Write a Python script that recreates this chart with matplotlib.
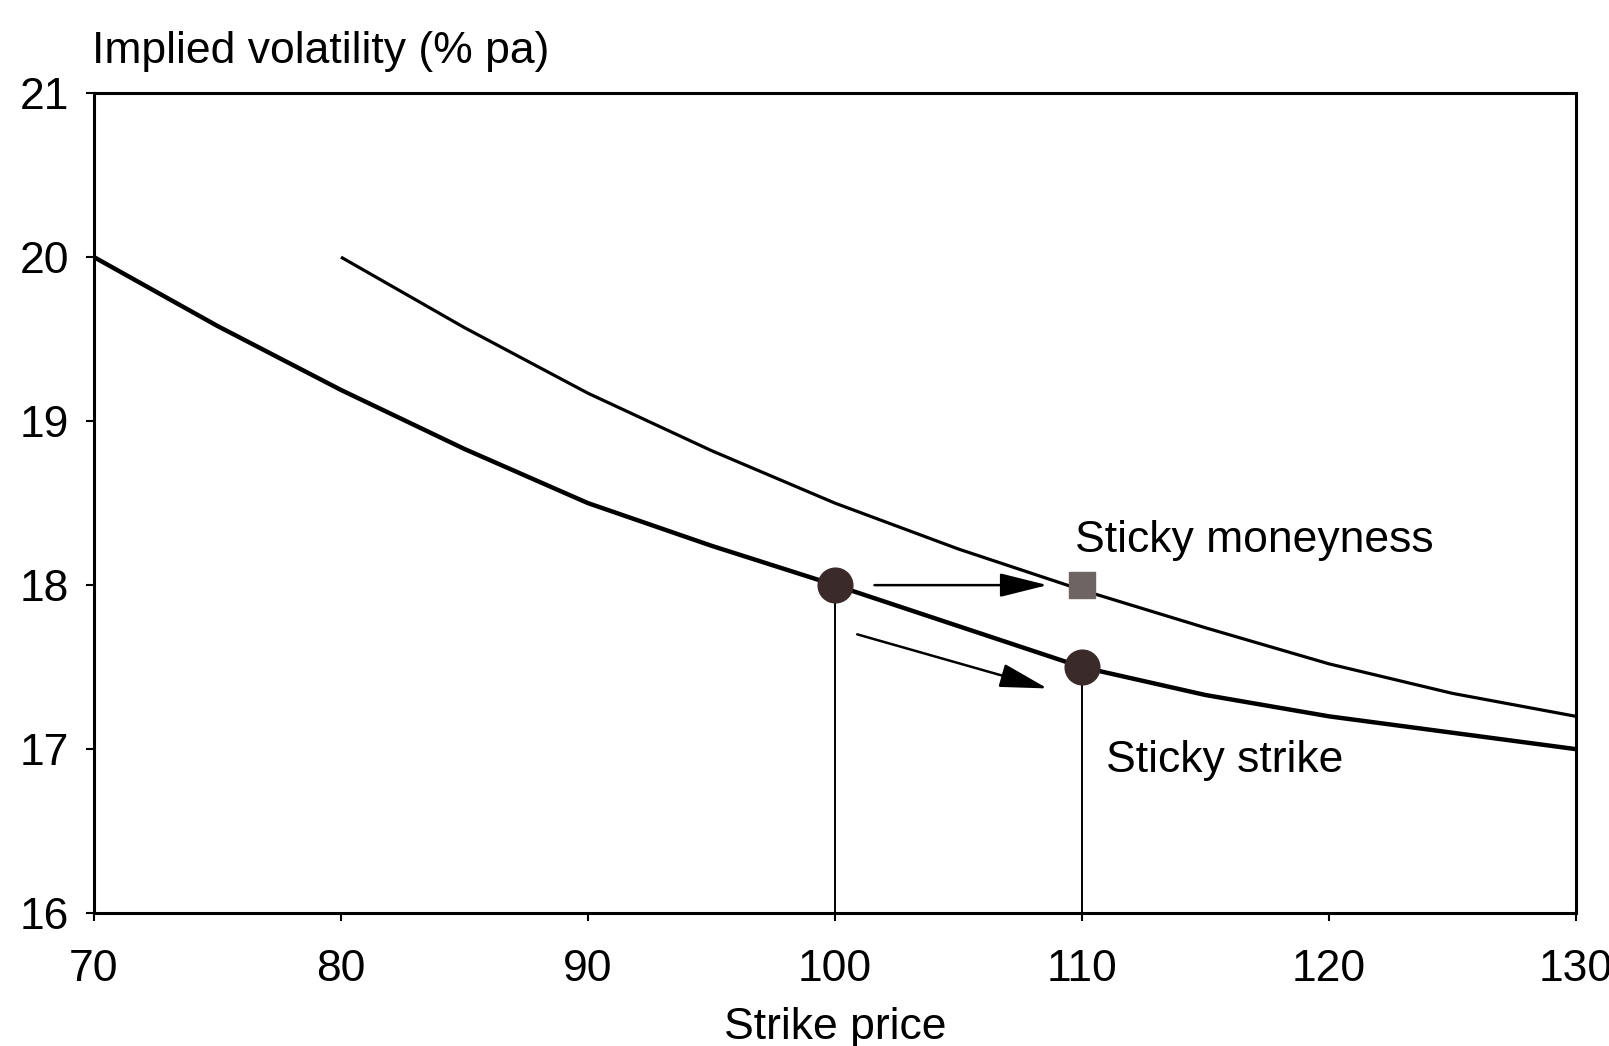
import matplotlib
matplotlib.use("Agg")
import matplotlib.pyplot as plt

plt.rcParams['font.family'] = ['Liberation Sans', 'DejaVu Sans']

strikes_strike = [70, 75, 80, 85, 90, 95, 100, 105, 110, 115, 120, 125, 130]
vol_sticky_strike = [20.0, 19.58, 19.19, 18.83, 18.5, 18.24, 18.0, 17.75, 17.5, 17.33, 17.2, 17.1, 17.0]
strikes_money = [80, 85, 90, 95, 100, 105, 110, 115, 120, 125, 130]
vol_sticky_money = [20.0, 19.57, 19.17, 18.82, 18.5, 18.22, 17.97, 17.74, 17.52, 17.34, 17.2]

xticks = [70, 80, 90, 100, 110, 120, 130]
yticks = [16, 17, 18, 19, 20, 21]

fig = plt.figure(figsize=(16.09, 10.46), dpi=100)
ax = fig.add_axes([0.0584, 0.127, 0.9211, 0.784])

ax.plot(strikes_strike, vol_sticky_strike, color='black', lw=3.2, solid_capstyle='butt')
ax.plot(strikes_money, vol_sticky_money, color='black', lw=2.3, solid_capstyle='butt')

# vertical drop lines
ax.plot([100, 100], [16, 18], color='black', lw=1.4)
ax.plot([110, 110], [16, 17.5], color='black', lw=1.4)

# markers
ax.plot([100, 110], [18.0, 17.5], 'o', ms=25, color='#3b2a2a', zorder=5)
ax.plot([110], [18.0], 's', ms=19, color='#6e6464', zorder=5)

# arrows
arrow_style = dict(arrowstyle='-|>,head_length=0.8,head_width=0.2', color='black',
                   lw=1.8, mutation_scale=37, shrinkA=0, shrinkB=0)
ax.annotate('', xy=(108.6, 18.0), xytext=(101.6, 18.0), arrowprops=arrow_style)
ax.annotate('', xy=(108.6, 17.37), xytext=(100.9, 17.7), arrowprops=arrow_style)

ax.text(109.7, 18.27, 'Sticky moneyness', fontsize=32, va='center', ha='left')
ax.text(110.97, 16.93, 'Sticky strike', fontsize=32, va='center', ha='left')

ax.set_xlim(70, 130)
ax.set_ylim(16, 21)
ax.set_xticks(xticks)
ax.set_yticks(yticks)
ax.tick_params(direction='out', length=6, width=1.5, labelsize=32)
ax.tick_params(axis='x', pad=20)
ax.tick_params(axis='y', pad=12)
for s in ax.spines.values():
    s.set_linewidth(2.2)

ax.set_xlabel('Strike price', fontsize=32, labelpad=12)
fig.text(92 / 1609, 1 - 51 / 1046, 'Implied volatility (% pa)', fontsize=32,
         ha='left', va='center')

fig.savefig('out.png', dpi=100)
